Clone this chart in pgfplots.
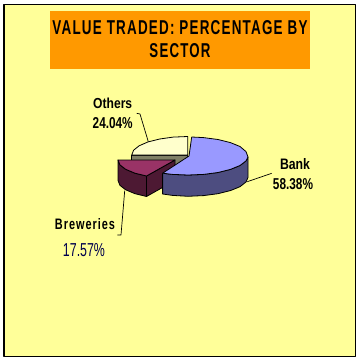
\documentclass[border=0pt]{standalone}
\usepackage{pgfplots}
\usepackage{graphicx}
\usepackage{fontspec}
\setmainfont{Liberation Sans}
\pgfplotsset{compat=1.18}
\definecolor{bgY}{HTML}{FFFF99}
\definecolor{tOr}{HTML}{FF9900}
\definecolor{bTop}{HTML}{9999FF}
\definecolor{bSide}{HTML}{4D4D80}
\definecolor{wTop}{HTML}{993366}
\definecolor{wSide}{HTML}{4D1933}
\definecolor{cTop}{HTML}{FFFFCC}
\definecolor{cSide}{HTML}{808066}
\newcommand{\lab}[5]{\node[inner sep=0pt,text=#5] at (axis cs:#1) {\resizebox{#2bp}{#3bp}{#4}};}
\newfontfamily\spaced[LetterSpace=9]{Liberation Sans}
\begin{document}
\begin{tikzpicture}
\begin{axis}[
  scale only axis, width=360bp, height=362bp,
  xmin=0, xmax=360, ymin=0, ymax=362, y dir=reverse,
  axis lines=none, clip=false,
  line join=round
]
% page
\addplot[fill=white,draw=none] coordinates {(0,0)(360,0)(360,362)(0,362)} -- cycle;
% frame and title box
\addplot[fill=bgY,draw=black,line width=1.5bp] coordinates {(3.8,4.5)(355.5,4.5)(355.5,356.5)(3.8,356.5)} -- cycle;
\addplot[fill=tOr,draw=none] coordinates {(50,11)(310,11)(310,69)(50,69)} -- cycle;
% Others (24.04%)
\addplot[fill=cSide,draw=black,line width=0.8bp] coordinates {(131.7,155)(187.7,155)(187.7,175)(131.7,175)} -- cycle;
\addplot[fill=cTop,draw=black,line width=0.8bp] coordinates {(187.7,155)(187.7,136.5)(173.2,137.1)(159.7,139)(148.1,141.9)(139.2,145.75)(133.6,150.2)(131.7,155)} -- cycle;
% Breweries (17.57%)
\addplot[fill=wSide,draw=black,line width=0.8bp] coordinates {(118,160)(119.9,164.8)(125.6,169.25)(134.7,173.1)(146.5,176)(175,160)(175,180.5)(146.5,196.5)(134.7,193.6)(125.6,189.75)(119.9,185.3)(118,180.5)} -- cycle;
\addplot[draw=black,line width=0.8bp] coordinates {(146.5,176)(146.5,196.5)};
\addplot[fill=wTop,draw=black,line width=0.8bp] coordinates {(175,160)(118,160)(119.9,164.8)(125.6,169.25)(134.7,173.1)(146.5,176)} -- cycle;
% Bank (58.38%)
\addplot[fill=bSide,draw=black,line width=0.8bp] coordinates {(248,157)(246,160.9)(240,165.5)(230.4,169.4)(218,172.5)(203.5,174.4)(188,175)(172.5,174.4)(162.6,173.2)(162.6,194)(172.5,195.4)(188,196.3)(203.5,195.6)(218,193.7)(230.4,190.6)(240,186.7)(246,182)(248,177.5)} -- cycle;
\addplot[fill=bTop,draw=black,line width=0.8bp] coordinates {(189,156)(191.7,137)(203.5,137.6)(218,139.5)(230.4,142.6)(240,146.5)(246,151.6)(248,157)(246,160.9)(240,165.5)(230.4,169.4)(218,172.5)(203.5,174.4)(188,175)(172.5,174.4)(162.6,173.2)} -- cycle;
% leader lines
\addplot[draw=black,line width=0.7bp] coordinates {(136.7,113.3)(140,114)(148.3,141.7)};
\addplot[draw=black,line width=0.7bp] coordinates {(247.3,181.7)(271.7,173.3)};
\addplot[draw=black,line width=0.7bp] coordinates {(124.7,190.7)(121,235)(117.3,235)};
% text
\lab{180,27.5}{255}{14}{\spaced\bfseries VALUE TRADED: PERCENTAGE BY}{black}
\lab{180,51}{61}{14}{\spaced\bfseries SECTOR}{black}
\lab{112.7,103}{39}{10.5}{\bfseries Others}{black}
\lab{112.7,123.5}{40}{11}{\bfseries 24.04\%}{black}
\lab{295,164}{30}{11}{\bfseries Bank}{black}
\lab{293,184}{40}{11}{\bfseries 58.38\%}{black}
\lab{85,224}{60}{11}{\spaced\bfseries Breweries}{black}
\lab{84,250}{42}{13}{17.57\%}{black!70!blue}
\end{axis}
\end{tikzpicture}
\end{document}
